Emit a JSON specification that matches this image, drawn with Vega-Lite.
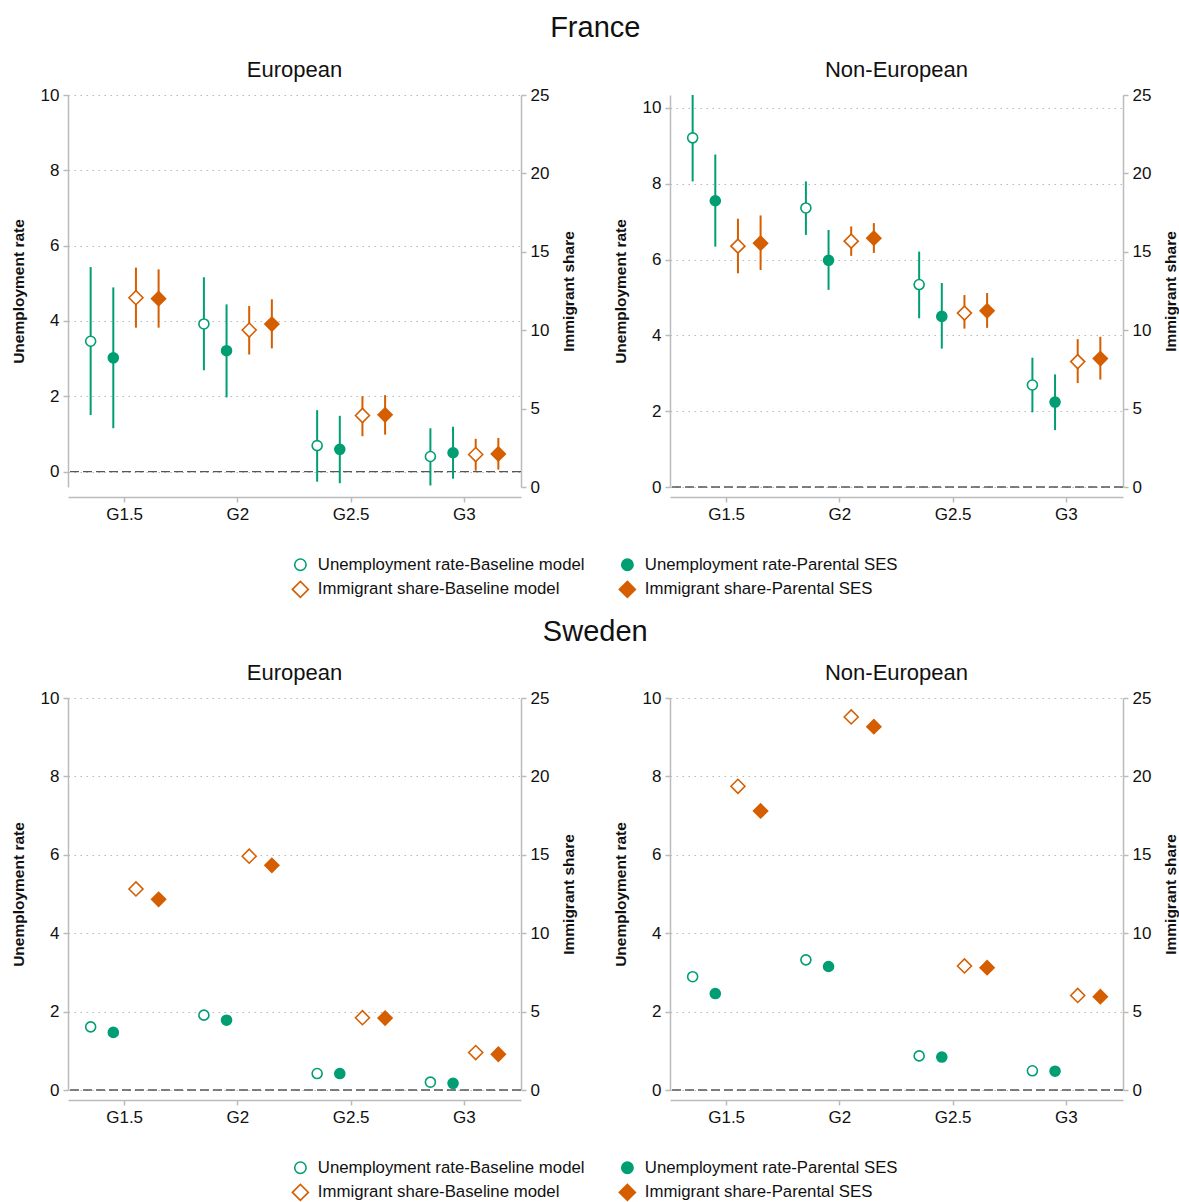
{
  "$schema": "https://vega.github.io/schema/vega-lite/v6.json",
  "padding": {"left": 11, "top": 14, "right": 0, "bottom": 0},
  "config": {
    "font": "Liberation Sans",
    "view": {"stroke": null},
    "axis": {"domainColor": "#bbbbbb", "domainWidth": 1.5, "tickColor": "#bbbbbb", "tickWidth": 1.5, "tickSize": 5, "labelFontSize": 17, "labelColor": "#111111", "titleFontSize": 15.5, "titleFontWeight": "bold", "titleColor": "#111111", "gridColor": "#b8b8b8", "gridDash": [1.5, 4.5], "gridWidth": 1, "labelPadding": 4},
    "title": {"fontSize": 22, "fontWeight": "normal", "color": "#111111", "offset": 4},
    "legend": {"orient": "bottom", "direction": "horizontal", "columns": 2, "labelFontSize": 16.8, "labelColor": "#111111", "labelLimit": 0, "symbolSize": 130, "symbolStrokeWidth": 1.6, "columnPadding": 31, "rowPadding": 4, "labelOffset": 9, "offset": 34, "layout": {"anchor": "middle"}},
    "concat": {"spacing": 35}
  },
  "datasets": {
    "d": [
      {"country": "France", "origin": "European", "gen": "G1.5", "series": "Unemployment rate-Baseline model", "measure": "UR", "value": 3.46, "lo": 1.50, "hi": 5.43},
      {"country": "France", "origin": "European", "gen": "G1.5", "series": "Unemployment rate-Parental SES", "measure": "UR", "value": 3.02, "lo": 1.15, "hi": 4.89},
      {"country": "France", "origin": "European", "gen": "G1.5", "series": "Immigrant share-Baseline model", "measure": "IS", "value": 12.07, "lo": 10.16, "hi": 13.99},
      {"country": "France", "origin": "European", "gen": "G1.5", "series": "Immigrant share-Parental SES", "measure": "IS", "value": 12.01, "lo": 10.16, "hi": 13.88},
      {"country": "France", "origin": "European", "gen": "G2", "series": "Unemployment rate-Baseline model", "measure": "UR", "value": 3.92, "lo": 2.69, "hi": 5.16},
      {"country": "France", "origin": "European", "gen": "G2", "series": "Unemployment rate-Parental SES", "measure": "UR", "value": 3.21, "lo": 1.97, "hi": 4.44},
      {"country": "France", "origin": "European", "gen": "G2", "series": "Immigrant share-Baseline model", "measure": "IS", "value": 10.01, "lo": 8.45, "hi": 11.54},
      {"country": "France", "origin": "European", "gen": "G2", "series": "Immigrant share-Parental SES", "measure": "IS", "value": 10.39, "lo": 8.84, "hi": 11.97},
      {"country": "France", "origin": "European", "gen": "G2.5", "series": "Unemployment rate-Baseline model", "measure": "UR", "value": 0.69, "lo": -0.27, "hi": 1.63},
      {"country": "France", "origin": "European", "gen": "G2.5", "series": "Unemployment rate-Parental SES", "measure": "UR", "value": 0.59, "lo": -0.31, "hi": 1.48},
      {"country": "France", "origin": "European", "gen": "G2.5", "series": "Immigrant share-Baseline model", "measure": "IS", "value": 4.56, "lo": 3.24, "hi": 5.79},
      {"country": "France", "origin": "European", "gen": "G2.5", "series": "Immigrant share-Parental SES", "measure": "IS", "value": 4.60, "lo": 3.34, "hi": 5.86},
      {"country": "France", "origin": "European", "gen": "G3", "series": "Unemployment rate-Baseline model", "measure": "UR", "value": 0.40, "lo": -0.37, "hi": 1.15},
      {"country": "France", "origin": "European", "gen": "G3", "series": "Unemployment rate-Parental SES", "measure": "UR", "value": 0.50, "lo": -0.19, "hi": 1.19},
      {"country": "France", "origin": "European", "gen": "G3", "series": "Immigrant share-Baseline model", "measure": "IS", "value": 2.07, "lo": 1.04, "hi": 3.07},
      {"country": "France", "origin": "European", "gen": "G3", "series": "Immigrant share-Parental SES", "measure": "IS", "value": 2.11, "lo": 1.11, "hi": 3.13},

      {"country": "France", "origin": "Non-European", "gen": "G1.5", "series": "Unemployment rate-Baseline model", "measure": "UR", "value": 9.21, "lo": 8.06, "hi": 10.34},
      {"country": "France", "origin": "Non-European", "gen": "G1.5", "series": "Unemployment rate-Parental SES", "measure": "UR", "value": 7.55, "lo": 6.34, "hi": 8.77},
      {"country": "France", "origin": "Non-European", "gen": "G1.5", "series": "Immigrant share-Baseline model", "measure": "IS", "value": 15.36, "lo": 13.63, "hi": 17.11},
      {"country": "France", "origin": "Non-European", "gen": "G1.5", "series": "Immigrant share-Parental SES", "measure": "IS", "value": 15.55, "lo": 13.84, "hi": 17.32},
      {"country": "France", "origin": "Non-European", "gen": "G2", "series": "Unemployment rate-Baseline model", "measure": "UR", "value": 7.36, "lo": 6.65, "hi": 8.06},
      {"country": "France", "origin": "Non-European", "gen": "G2", "series": "Unemployment rate-Parental SES", "measure": "UR", "value": 5.98, "lo": 5.20, "hi": 6.78},
      {"country": "France", "origin": "Non-European", "gen": "G2", "series": "Immigrant share-Baseline model", "measure": "IS", "value": 15.68, "lo": 14.74, "hi": 16.62},
      {"country": "France", "origin": "Non-European", "gen": "G2", "series": "Immigrant share-Parental SES", "measure": "IS", "value": 15.87, "lo": 14.93, "hi": 16.83},
      {"country": "France", "origin": "Non-European", "gen": "G2.5", "series": "Unemployment rate-Baseline model", "measure": "UR", "value": 5.34, "lo": 4.45, "hi": 6.21},
      {"country": "France", "origin": "Non-European", "gen": "G2.5", "series": "Unemployment rate-Parental SES", "measure": "UR", "value": 4.50, "lo": 3.65, "hi": 5.38},
      {"country": "France", "origin": "Non-European", "gen": "G2.5", "series": "Immigrant share-Baseline model", "measure": "IS", "value": 11.09, "lo": 10.10, "hi": 12.24},
      {"country": "France", "origin": "Non-European", "gen": "G2.5", "series": "Immigrant share-Parental SES", "measure": "IS", "value": 11.24, "lo": 10.15, "hi": 12.37},
      {"country": "France", "origin": "Non-European", "gen": "G3", "series": "Unemployment rate-Baseline model", "measure": "UR", "value": 2.69, "lo": 1.97, "hi": 3.41},
      {"country": "France", "origin": "Non-European", "gen": "G3", "series": "Unemployment rate-Parental SES", "measure": "UR", "value": 2.24, "lo": 1.50, "hi": 2.97},
      {"country": "France", "origin": "Non-European", "gen": "G3", "series": "Immigrant share-Baseline model", "measure": "IS", "value": 8.00, "lo": 6.63, "hi": 9.43},
      {"country": "France", "origin": "Non-European", "gen": "G3", "series": "Immigrant share-Parental SES", "measure": "IS", "value": 8.19, "lo": 6.85, "hi": 9.58},

      {"country": "Sweden", "origin": "European", "gen": "G1.5", "series": "Unemployment rate-Baseline model", "measure": "UR", "value": 1.61},
      {"country": "Sweden", "origin": "European", "gen": "G1.5", "series": "Unemployment rate-Parental SES", "measure": "UR", "value": 1.47},
      {"country": "Sweden", "origin": "European", "gen": "G1.5", "series": "Immigrant share-Baseline model", "measure": "IS", "value": 12.82},
      {"country": "Sweden", "origin": "European", "gen": "G1.5", "series": "Immigrant share-Parental SES", "measure": "IS", "value": 12.16},
      {"country": "Sweden", "origin": "European", "gen": "G2", "series": "Unemployment rate-Baseline model", "measure": "UR", "value": 1.91},
      {"country": "Sweden", "origin": "European", "gen": "G2", "series": "Unemployment rate-Parental SES", "measure": "UR", "value": 1.78},
      {"country": "Sweden", "origin": "European", "gen": "G2", "series": "Immigrant share-Baseline model", "measure": "IS", "value": 14.91},
      {"country": "Sweden", "origin": "European", "gen": "G2", "series": "Immigrant share-Parental SES", "measure": "IS", "value": 14.33},
      {"country": "Sweden", "origin": "European", "gen": "G2.5", "series": "Unemployment rate-Baseline model", "measure": "UR", "value": 0.42},
      {"country": "Sweden", "origin": "European", "gen": "G2.5", "series": "Unemployment rate-Parental SES", "measure": "UR", "value": 0.42},
      {"country": "Sweden", "origin": "European", "gen": "G2.5", "series": "Immigrant share-Baseline model", "measure": "IS", "value": 4.61},
      {"country": "Sweden", "origin": "European", "gen": "G2.5", "series": "Immigrant share-Parental SES", "measure": "IS", "value": 4.59},
      {"country": "Sweden", "origin": "European", "gen": "G3", "series": "Unemployment rate-Baseline model", "measure": "UR", "value": 0.20},
      {"country": "Sweden", "origin": "European", "gen": "G3", "series": "Unemployment rate-Parental SES", "measure": "UR", "value": 0.17},
      {"country": "Sweden", "origin": "European", "gen": "G3", "series": "Immigrant share-Baseline model", "measure": "IS", "value": 2.39},
      {"country": "Sweden", "origin": "European", "gen": "G3", "series": "Immigrant share-Parental SES", "measure": "IS", "value": 2.28},

      {"country": "Sweden", "origin": "Non-European", "gen": "G1.5", "series": "Unemployment rate-Baseline model", "measure": "UR", "value": 2.89},
      {"country": "Sweden", "origin": "Non-European", "gen": "G1.5", "series": "Unemployment rate-Parental SES", "measure": "UR", "value": 2.46},
      {"country": "Sweden", "origin": "Non-European", "gen": "G1.5", "series": "Immigrant share-Baseline model", "measure": "IS", "value": 19.37},
      {"country": "Sweden", "origin": "Non-European", "gen": "G1.5", "series": "Immigrant share-Parental SES", "measure": "IS", "value": 17.80},
      {"country": "Sweden", "origin": "Non-European", "gen": "G2", "series": "Unemployment rate-Baseline model", "measure": "UR", "value": 3.32},
      {"country": "Sweden", "origin": "Non-European", "gen": "G2", "series": "Unemployment rate-Parental SES", "measure": "UR", "value": 3.15},
      {"country": "Sweden", "origin": "Non-European", "gen": "G2", "series": "Immigrant share-Baseline model", "measure": "IS", "value": 23.79},
      {"country": "Sweden", "origin": "Non-European", "gen": "G2", "series": "Immigrant share-Parental SES", "measure": "IS", "value": 23.17},
      {"country": "Sweden", "origin": "Non-European", "gen": "G2.5", "series": "Unemployment rate-Baseline model", "measure": "UR", "value": 0.87},
      {"country": "Sweden", "origin": "Non-European", "gen": "G2.5", "series": "Unemployment rate-Parental SES", "measure": "UR", "value": 0.84},
      {"country": "Sweden", "origin": "Non-European", "gen": "G2.5", "series": "Immigrant share-Baseline model", "measure": "IS", "value": 7.91},
      {"country": "Sweden", "origin": "Non-European", "gen": "G2.5", "series": "Immigrant share-Parental SES", "measure": "IS", "value": 7.80},
      {"country": "Sweden", "origin": "Non-European", "gen": "G3", "series": "Unemployment rate-Baseline model", "measure": "UR", "value": 0.49},
      {"country": "Sweden", "origin": "Non-European", "gen": "G3", "series": "Unemployment rate-Parental SES", "measure": "UR", "value": 0.48},
      {"country": "Sweden", "origin": "Non-European", "gen": "G3", "series": "Immigrant share-Baseline model", "measure": "IS", "value": 6.03},
      {"country": "Sweden", "origin": "Non-European", "gen": "G3", "series": "Immigrant share-Parental SES", "measure": "IS", "value": 5.95}
    ]
  },
  "data": {"name": "d"},
  "resolve": {"scale": {"shape": "independent", "fill": "independent", "stroke": "independent"}},
  "spacing": 17,
  "vconcat": [
    {
      "title": {"text": "France", "fontSize": 29, "anchor": "middle", "offset": 16},
      "transform": [{"filter": "datum.country == 'France'"}],
      "spacing": 35,
      "hconcat": [
        {
          "title": "European",
          "width": 453, "height": 392,
          "transform": [{"filter": "datum.origin == 'European'"}],
          "layer": [
            {
              "transform": [{"filter": "datum.measure == 'UR'"}],
              "layer": [
                {"data": {"values": [{}]}, "mark": {"type": "rule", "color": "#555555", "strokeDash": [9, 4], "strokeWidth": 1.3}, "encoding": {"y": {"datum": 0, "type": "quantitative", "scale": {"domain": [-0.41, 10], "nice": false, "zero": false}, "axis": {"title": "Unemployment rate", "orient": "left", "values": [0, 2, 4, 6, 8, 10], "grid": true, "titlePadding": 14}}}},
                {"mark": {"type": "rule", "strokeWidth": 2}, "encoding": {
                  "x": {"field": "gen", "type": "nominal", "sort": ["G1.5", "G2", "G2.5", "G3"], "scale": {"paddingInner": 0, "paddingOuter": 0}, "axis": {"title": null, "labelAngle": 0, "offset": 10, "bandPosition": 0.5, "domain": true}},
                  "xOffset": {"field": "series", "type": "nominal", "scale": {"domain": ["Unemployment rate-Baseline model", "Unemployment rate-Parental SES", "Immigrant share-Baseline model", "Immigrant share-Parental SES"], "paddingInner": 0, "paddingOuter": 0.5}},
                  "y": {"field": "lo", "type": "quantitative", "scale": {"domain": [-0.41, 10], "nice": false, "zero": false}, "axis": {"title": "Unemployment rate", "orient": "left", "values": [0, 2, 4, 6, 8, 10], "grid": true, "titlePadding": 14}},
                  "y2": {"field": "hi"},
                  "stroke": {"field": "series", "type": "nominal", "scale": {"domain": ["Unemployment rate-Baseline model", "Unemployment rate-Parental SES", "Immigrant share-Baseline model", "Immigrant share-Parental SES"], "range": ["#009E73", "#009E73", "#D55E00", "#D55E00"]}, "legend": {"title": null}}
                }},
                {"mark": {"type": "point", "filled": true, "opacity": 1, "strokeWidth": 1.6, "size": 100}, "encoding": {
                  "x": {"field": "gen", "type": "nominal", "sort": ["G1.5", "G2", "G2.5", "G3"], "scale": {"paddingInner": 0, "paddingOuter": 0}, "axis": {"title": null, "labelAngle": 0, "offset": 10, "bandPosition": 0.5, "domain": true}},
                  "xOffset": {"field": "series", "type": "nominal", "scale": {"domain": ["Unemployment rate-Baseline model", "Unemployment rate-Parental SES", "Immigrant share-Baseline model", "Immigrant share-Parental SES"], "paddingInner": 0, "paddingOuter": 0.5}},
                  "y": {"field": "value", "type": "quantitative", "scale": {"domain": [-0.41, 10], "nice": false, "zero": false}, "axis": {"title": "Unemployment rate", "orient": "left", "values": [0, 2, 4, 6, 8, 10], "grid": true, "titlePadding": 14}},
                  "shape": {"field": "series", "type": "nominal", "scale": {"domain": ["Unemployment rate-Baseline model", "Unemployment rate-Parental SES", "Immigrant share-Baseline model", "Immigrant share-Parental SES"], "range": ["circle", "circle", "M-1.4,0L0,-1.4L1.4,0L0,1.4Z", "M-1.4,0L0,-1.4L1.4,0L0,1.4Z"]}, "legend": {"title": null}},
                  "fill": {"field": "series", "type": "nominal", "scale": {"domain": ["Unemployment rate-Baseline model", "Unemployment rate-Parental SES", "Immigrant share-Baseline model", "Immigrant share-Parental SES"], "range": ["#ffffff", "#009E73", "#ffffff", "#D55E00"]}, "legend": {"title": null}},
                  "stroke": {"field": "series", "type": "nominal", "scale": {"domain": ["Unemployment rate-Baseline model", "Unemployment rate-Parental SES", "Immigrant share-Baseline model", "Immigrant share-Parental SES"], "range": ["#009E73", "#009E73", "#D55E00", "#D55E00"]}, "legend": {"title": null}}
                }}
              ]
            },
            {
              "transform": [{"filter": "datum.measure == 'IS'"}],
              "layer": [
                {"mark": {"type": "rule", "strokeWidth": 2}, "encoding": {
                  "x": {"field": "gen", "type": "nominal", "sort": ["G1.5", "G2", "G2.5", "G3"], "scale": {"paddingInner": 0, "paddingOuter": 0}, "axis": {"title": null, "labelAngle": 0, "offset": 10, "bandPosition": 0.5, "domain": true}},
                  "xOffset": {"field": "series", "type": "nominal", "scale": {"domain": ["Unemployment rate-Baseline model", "Unemployment rate-Parental SES", "Immigrant share-Baseline model", "Immigrant share-Parental SES"], "paddingInner": 0, "paddingOuter": 0.5}},
                  "y": {"field": "lo", "type": "quantitative", "scale": {"domain": [0, 25], "nice": false}, "axis": {"title": "Immigrant share", "orient": "right", "values": [0, 5, 10, 15, 20, 25], "grid": false, "titlePadding": 13, "titleAngle": 270, "titleBaseline": "top"}},
                  "y2": {"field": "hi"},
                  "stroke": {"field": "series", "type": "nominal", "scale": {"domain": ["Unemployment rate-Baseline model", "Unemployment rate-Parental SES", "Immigrant share-Baseline model", "Immigrant share-Parental SES"], "range": ["#009E73", "#009E73", "#D55E00", "#D55E00"]}, "legend": {"title": null}}
                }},
                {"mark": {"type": "point", "filled": true, "opacity": 1, "strokeWidth": 1.6, "size": 100}, "encoding": {
                  "x": {"field": "gen", "type": "nominal", "sort": ["G1.5", "G2", "G2.5", "G3"], "scale": {"paddingInner": 0, "paddingOuter": 0}, "axis": {"title": null, "labelAngle": 0, "offset": 10, "bandPosition": 0.5, "domain": true}},
                  "xOffset": {"field": "series", "type": "nominal", "scale": {"domain": ["Unemployment rate-Baseline model", "Unemployment rate-Parental SES", "Immigrant share-Baseline model", "Immigrant share-Parental SES"], "paddingInner": 0, "paddingOuter": 0.5}},
                  "y": {"field": "value", "type": "quantitative", "scale": {"domain": [0, 25], "nice": false}, "axis": {"title": "Immigrant share", "orient": "right", "values": [0, 5, 10, 15, 20, 25], "grid": false, "titlePadding": 13, "titleAngle": 270, "titleBaseline": "top"}},
                  "shape": {"field": "series", "type": "nominal", "scale": {"domain": ["Unemployment rate-Baseline model", "Unemployment rate-Parental SES", "Immigrant share-Baseline model", "Immigrant share-Parental SES"], "range": ["circle", "circle", "M-1.4,0L0,-1.4L1.4,0L0,1.4Z", "M-1.4,0L0,-1.4L1.4,0L0,1.4Z"]}, "legend": {"title": null}},
                  "fill": {"field": "series", "type": "nominal", "scale": {"domain": ["Unemployment rate-Baseline model", "Unemployment rate-Parental SES", "Immigrant share-Baseline model", "Immigrant share-Parental SES"], "range": ["#ffffff", "#009E73", "#ffffff", "#D55E00"]}, "legend": {"title": null}},
                  "stroke": {"field": "series", "type": "nominal", "scale": {"domain": ["Unemployment rate-Baseline model", "Unemployment rate-Parental SES", "Immigrant share-Baseline model", "Immigrant share-Parental SES"], "range": ["#009E73", "#009E73", "#D55E00", "#D55E00"]}, "legend": {"title": null}}
                }}
              ]
            }
          ],
          "resolve": {"scale": {"y": "independent"}}
        },
        {
          "title": "Non-European",
          "width": 453, "height": 392,
          "transform": [{"filter": "datum.origin == 'Non-European'"}],
          "layer": [
            {
              "transform": [{"filter": "datum.measure == 'UR'"}],
              "layer": [
                {"data": {"values": [{}]}, "mark": {"type": "rule", "color": "#555555", "strokeDash": [9, 4], "strokeWidth": 1.3}, "encoding": {"y": {"datum": 0, "type": "quantitative", "scale": {"domain": [0, 10.34], "nice": false, "zero": false}, "axis": {"title": "Unemployment rate", "orient": "left", "values": [0, 2, 4, 6, 8, 10], "grid": true, "titlePadding": 14}}}},
                {"mark": {"type": "rule", "strokeWidth": 2}, "encoding": {
                  "x": {"field": "gen", "type": "nominal", "sort": ["G1.5", "G2", "G2.5", "G3"], "scale": {"paddingInner": 0, "paddingOuter": 0}, "axis": {"title": null, "labelAngle": 0, "offset": 10, "bandPosition": 0.5, "domain": true}},
                  "xOffset": {"field": "series", "type": "nominal", "scale": {"domain": ["Unemployment rate-Baseline model", "Unemployment rate-Parental SES", "Immigrant share-Baseline model", "Immigrant share-Parental SES"], "paddingInner": 0, "paddingOuter": 0.5}},
                  "y": {"field": "lo", "type": "quantitative", "scale": {"domain": [0, 10.34], "nice": false, "zero": false}, "axis": {"title": "Unemployment rate", "orient": "left", "values": [0, 2, 4, 6, 8, 10], "grid": true, "titlePadding": 14}},
                  "y2": {"field": "hi"},
                  "stroke": {"field": "series", "type": "nominal", "scale": {"domain": ["Unemployment rate-Baseline model", "Unemployment rate-Parental SES", "Immigrant share-Baseline model", "Immigrant share-Parental SES"], "range": ["#009E73", "#009E73", "#D55E00", "#D55E00"]}, "legend": {"title": null}}
                }},
                {"mark": {"type": "point", "filled": true, "opacity": 1, "strokeWidth": 1.6, "size": 100}, "encoding": {
                  "x": {"field": "gen", "type": "nominal", "sort": ["G1.5", "G2", "G2.5", "G3"], "scale": {"paddingInner": 0, "paddingOuter": 0}, "axis": {"title": null, "labelAngle": 0, "offset": 10, "bandPosition": 0.5, "domain": true}},
                  "xOffset": {"field": "series", "type": "nominal", "scale": {"domain": ["Unemployment rate-Baseline model", "Unemployment rate-Parental SES", "Immigrant share-Baseline model", "Immigrant share-Parental SES"], "paddingInner": 0, "paddingOuter": 0.5}},
                  "y": {"field": "value", "type": "quantitative", "scale": {"domain": [0, 10.34], "nice": false, "zero": false}, "axis": {"title": "Unemployment rate", "orient": "left", "values": [0, 2, 4, 6, 8, 10], "grid": true, "titlePadding": 14}},
                  "shape": {"field": "series", "type": "nominal", "scale": {"domain": ["Unemployment rate-Baseline model", "Unemployment rate-Parental SES", "Immigrant share-Baseline model", "Immigrant share-Parental SES"], "range": ["circle", "circle", "M-1.4,0L0,-1.4L1.4,0L0,1.4Z", "M-1.4,0L0,-1.4L1.4,0L0,1.4Z"]}, "legend": {"title": null}},
                  "fill": {"field": "series", "type": "nominal", "scale": {"domain": ["Unemployment rate-Baseline model", "Unemployment rate-Parental SES", "Immigrant share-Baseline model", "Immigrant share-Parental SES"], "range": ["#ffffff", "#009E73", "#ffffff", "#D55E00"]}, "legend": {"title": null}},
                  "stroke": {"field": "series", "type": "nominal", "scale": {"domain": ["Unemployment rate-Baseline model", "Unemployment rate-Parental SES", "Immigrant share-Baseline model", "Immigrant share-Parental SES"], "range": ["#009E73", "#009E73", "#D55E00", "#D55E00"]}, "legend": {"title": null}}
                }}
              ]
            },
            {
              "transform": [{"filter": "datum.measure == 'IS'"}],
              "layer": [
                {"mark": {"type": "rule", "strokeWidth": 2}, "encoding": {
                  "x": {"field": "gen", "type": "nominal", "sort": ["G1.5", "G2", "G2.5", "G3"], "scale": {"paddingInner": 0, "paddingOuter": 0}, "axis": {"title": null, "labelAngle": 0, "offset": 10, "bandPosition": 0.5, "domain": true}},
                  "xOffset": {"field": "series", "type": "nominal", "scale": {"domain": ["Unemployment rate-Baseline model", "Unemployment rate-Parental SES", "Immigrant share-Baseline model", "Immigrant share-Parental SES"], "paddingInner": 0, "paddingOuter": 0.5}},
                  "y": {"field": "lo", "type": "quantitative", "scale": {"domain": [0, 25], "nice": false}, "axis": {"title": "Immigrant share", "orient": "right", "values": [0, 5, 10, 15, 20, 25], "grid": false, "titlePadding": 13, "titleAngle": 270, "titleBaseline": "top"}},
                  "y2": {"field": "hi"},
                  "stroke": {"field": "series", "type": "nominal", "scale": {"domain": ["Unemployment rate-Baseline model", "Unemployment rate-Parental SES", "Immigrant share-Baseline model", "Immigrant share-Parental SES"], "range": ["#009E73", "#009E73", "#D55E00", "#D55E00"]}, "legend": {"title": null}}
                }},
                {"mark": {"type": "point", "filled": true, "opacity": 1, "strokeWidth": 1.6, "size": 100}, "encoding": {
                  "x": {"field": "gen", "type": "nominal", "sort": ["G1.5", "G2", "G2.5", "G3"], "scale": {"paddingInner": 0, "paddingOuter": 0}, "axis": {"title": null, "labelAngle": 0, "offset": 10, "bandPosition": 0.5, "domain": true}},
                  "xOffset": {"field": "series", "type": "nominal", "scale": {"domain": ["Unemployment rate-Baseline model", "Unemployment rate-Parental SES", "Immigrant share-Baseline model", "Immigrant share-Parental SES"], "paddingInner": 0, "paddingOuter": 0.5}},
                  "y": {"field": "value", "type": "quantitative", "scale": {"domain": [0, 25], "nice": false}, "axis": {"title": "Immigrant share", "orient": "right", "values": [0, 5, 10, 15, 20, 25], "grid": false, "titlePadding": 13, "titleAngle": 270, "titleBaseline": "top"}},
                  "shape": {"field": "series", "type": "nominal", "scale": {"domain": ["Unemployment rate-Baseline model", "Unemployment rate-Parental SES", "Immigrant share-Baseline model", "Immigrant share-Parental SES"], "range": ["circle", "circle", "M-1.4,0L0,-1.4L1.4,0L0,1.4Z", "M-1.4,0L0,-1.4L1.4,0L0,1.4Z"]}, "legend": {"title": null}},
                  "fill": {"field": "series", "type": "nominal", "scale": {"domain": ["Unemployment rate-Baseline model", "Unemployment rate-Parental SES", "Immigrant share-Baseline model", "Immigrant share-Parental SES"], "range": ["#ffffff", "#009E73", "#ffffff", "#D55E00"]}, "legend": {"title": null}},
                  "stroke": {"field": "series", "type": "nominal", "scale": {"domain": ["Unemployment rate-Baseline model", "Unemployment rate-Parental SES", "Immigrant share-Baseline model", "Immigrant share-Parental SES"], "range": ["#009E73", "#009E73", "#D55E00", "#D55E00"]}, "legend": {"title": null}}
                }}
              ]
            }
          ],
          "resolve": {"scale": {"y": "independent"}}
        }
      ]
    },
    {
      "title": {"text": "Sweden", "fontSize": 29, "anchor": "middle", "offset": 15},
      "transform": [{"filter": "datum.country == 'Sweden'"}],
      "spacing": 35,
      "hconcat": [
        {
          "title": "European",
          "width": 453, "height": 392,
          "transform": [{"filter": "datum.origin == 'European'"}],
          "layer": [
            {
              "transform": [{"filter": "datum.measure == 'UR'"}],
              "layer": [
                {"data": {"values": [{}]}, "mark": {"type": "rule", "color": "#555555", "strokeDash": [9, 4], "strokeWidth": 1.3}, "encoding": {"y": {"datum": 0, "type": "quantitative", "scale": {"domain": [0, 10], "nice": false, "zero": false}, "axis": {"title": "Unemployment rate", "orient": "left", "values": [0, 2, 4, 6, 8, 10], "grid": true, "titlePadding": 14}}}},
                {"mark": {"type": "point", "filled": true, "opacity": 1, "strokeWidth": 1.6, "size": 100}, "encoding": {
                  "x": {"field": "gen", "type": "nominal", "sort": ["G1.5", "G2", "G2.5", "G3"], "scale": {"paddingInner": 0, "paddingOuter": 0}, "axis": {"title": null, "labelAngle": 0, "offset": 10, "bandPosition": 0.5, "domain": true}},
                  "xOffset": {"field": "series", "type": "nominal", "scale": {"domain": ["Unemployment rate-Baseline model", "Unemployment rate-Parental SES", "Immigrant share-Baseline model", "Immigrant share-Parental SES"], "paddingInner": 0, "paddingOuter": 0.5}},
                  "y": {"field": "value", "type": "quantitative", "scale": {"domain": [0, 10], "nice": false, "zero": false}, "axis": {"title": "Unemployment rate", "orient": "left", "values": [0, 2, 4, 6, 8, 10], "grid": true, "titlePadding": 14}},
                  "shape": {"field": "series", "type": "nominal", "scale": {"domain": ["Unemployment rate-Baseline model", "Unemployment rate-Parental SES", "Immigrant share-Baseline model", "Immigrant share-Parental SES"], "range": ["circle", "circle", "M-1.4,0L0,-1.4L1.4,0L0,1.4Z", "M-1.4,0L0,-1.4L1.4,0L0,1.4Z"]}, "legend": {"title": null}},
                  "fill": {"field": "series", "type": "nominal", "scale": {"domain": ["Unemployment rate-Baseline model", "Unemployment rate-Parental SES", "Immigrant share-Baseline model", "Immigrant share-Parental SES"], "range": ["#ffffff", "#009E73", "#ffffff", "#D55E00"]}, "legend": {"title": null}},
                  "stroke": {"field": "series", "type": "nominal", "scale": {"domain": ["Unemployment rate-Baseline model", "Unemployment rate-Parental SES", "Immigrant share-Baseline model", "Immigrant share-Parental SES"], "range": ["#009E73", "#009E73", "#D55E00", "#D55E00"]}, "legend": {"title": null}}
                }}
              ]
            },
            {
              "transform": [{"filter": "datum.measure == 'IS'"}],
              "mark": {"type": "point", "filled": true, "opacity": 1, "strokeWidth": 1.6, "size": 100},
              "encoding": {
                "x": {"field": "gen", "type": "nominal", "sort": ["G1.5", "G2", "G2.5", "G3"], "scale": {"paddingInner": 0, "paddingOuter": 0}, "axis": {"title": null, "labelAngle": 0, "offset": 10, "bandPosition": 0.5, "domain": true}},
                "xOffset": {"field": "series", "type": "nominal", "scale": {"domain": ["Unemployment rate-Baseline model", "Unemployment rate-Parental SES", "Immigrant share-Baseline model", "Immigrant share-Parental SES"], "paddingInner": 0, "paddingOuter": 0.5}},
                "y": {"field": "value", "type": "quantitative", "scale": {"domain": [0, 25], "nice": false}, "axis": {"title": "Immigrant share", "orient": "right", "values": [0, 5, 10, 15, 20, 25], "grid": false, "titlePadding": 13, "titleAngle": 270, "titleBaseline": "top"}},
                "shape": {"field": "series", "type": "nominal", "scale": {"domain": ["Unemployment rate-Baseline model", "Unemployment rate-Parental SES", "Immigrant share-Baseline model", "Immigrant share-Parental SES"], "range": ["circle", "circle", "M-1.4,0L0,-1.4L1.4,0L0,1.4Z", "M-1.4,0L0,-1.4L1.4,0L0,1.4Z"]}, "legend": {"title": null}},
                "fill": {"field": "series", "type": "nominal", "scale": {"domain": ["Unemployment rate-Baseline model", "Unemployment rate-Parental SES", "Immigrant share-Baseline model", "Immigrant share-Parental SES"], "range": ["#ffffff", "#009E73", "#ffffff", "#D55E00"]}, "legend": {"title": null}},
                "stroke": {"field": "series", "type": "nominal", "scale": {"domain": ["Unemployment rate-Baseline model", "Unemployment rate-Parental SES", "Immigrant share-Baseline model", "Immigrant share-Parental SES"], "range": ["#009E73", "#009E73", "#D55E00", "#D55E00"]}, "legend": {"title": null}}
              }
            }
          ],
          "resolve": {"scale": {"y": "independent"}}
        },
        {
          "title": "Non-European",
          "width": 453, "height": 392,
          "transform": [{"filter": "datum.origin == 'Non-European'"}],
          "layer": [
            {
              "transform": [{"filter": "datum.measure == 'UR'"}],
              "layer": [
                {"data": {"values": [{}]}, "mark": {"type": "rule", "color": "#555555", "strokeDash": [9, 4], "strokeWidth": 1.3}, "encoding": {"y": {"datum": 0, "type": "quantitative", "scale": {"domain": [0, 10], "nice": false, "zero": false}, "axis": {"title": "Unemployment rate", "orient": "left", "values": [0, 2, 4, 6, 8, 10], "grid": true, "titlePadding": 14}}}},
                {"mark": {"type": "point", "filled": true, "opacity": 1, "strokeWidth": 1.6, "size": 100}, "encoding": {
                  "x": {"field": "gen", "type": "nominal", "sort": ["G1.5", "G2", "G2.5", "G3"], "scale": {"paddingInner": 0, "paddingOuter": 0}, "axis": {"title": null, "labelAngle": 0, "offset": 10, "bandPosition": 0.5, "domain": true}},
                  "xOffset": {"field": "series", "type": "nominal", "scale": {"domain": ["Unemployment rate-Baseline model", "Unemployment rate-Parental SES", "Immigrant share-Baseline model", "Immigrant share-Parental SES"], "paddingInner": 0, "paddingOuter": 0.5}},
                  "y": {"field": "value", "type": "quantitative", "scale": {"domain": [0, 10], "nice": false, "zero": false}, "axis": {"title": "Unemployment rate", "orient": "left", "values": [0, 2, 4, 6, 8, 10], "grid": true, "titlePadding": 14}},
                  "shape": {"field": "series", "type": "nominal", "scale": {"domain": ["Unemployment rate-Baseline model", "Unemployment rate-Parental SES", "Immigrant share-Baseline model", "Immigrant share-Parental SES"], "range": ["circle", "circle", "M-1.4,0L0,-1.4L1.4,0L0,1.4Z", "M-1.4,0L0,-1.4L1.4,0L0,1.4Z"]}, "legend": {"title": null}},
                  "fill": {"field": "series", "type": "nominal", "scale": {"domain": ["Unemployment rate-Baseline model", "Unemployment rate-Parental SES", "Immigrant share-Baseline model", "Immigrant share-Parental SES"], "range": ["#ffffff", "#009E73", "#ffffff", "#D55E00"]}, "legend": {"title": null}},
                  "stroke": {"field": "series", "type": "nominal", "scale": {"domain": ["Unemployment rate-Baseline model", "Unemployment rate-Parental SES", "Immigrant share-Baseline model", "Immigrant share-Parental SES"], "range": ["#009E73", "#009E73", "#D55E00", "#D55E00"]}, "legend": {"title": null}}
                }}
              ]
            },
            {
              "transform": [{"filter": "datum.measure == 'IS'"}],
              "mark": {"type": "point", "filled": true, "opacity": 1, "strokeWidth": 1.6, "size": 100},
              "encoding": {
                "x": {"field": "gen", "type": "nominal", "sort": ["G1.5", "G2", "G2.5", "G3"], "scale": {"paddingInner": 0, "paddingOuter": 0}, "axis": {"title": null, "labelAngle": 0, "offset": 10, "bandPosition": 0.5, "domain": true}},
                "xOffset": {"field": "series", "type": "nominal", "scale": {"domain": ["Unemployment rate-Baseline model", "Unemployment rate-Parental SES", "Immigrant share-Baseline model", "Immigrant share-Parental SES"], "paddingInner": 0, "paddingOuter": 0.5}},
                "y": {"field": "value", "type": "quantitative", "scale": {"domain": [0, 25], "nice": false}, "axis": {"title": "Immigrant share", "orient": "right", "values": [0, 5, 10, 15, 20, 25], "grid": false, "titlePadding": 13, "titleAngle": 270, "titleBaseline": "top"}},
                "shape": {"field": "series", "type": "nominal", "scale": {"domain": ["Unemployment rate-Baseline model", "Unemployment rate-Parental SES", "Immigrant share-Baseline model", "Immigrant share-Parental SES"], "range": ["circle", "circle", "M-1.4,0L0,-1.4L1.4,0L0,1.4Z", "M-1.4,0L0,-1.4L1.4,0L0,1.4Z"]}, "legend": {"title": null}},
                "fill": {"field": "series", "type": "nominal", "scale": {"domain": ["Unemployment rate-Baseline model", "Unemployment rate-Parental SES", "Immigrant share-Baseline model", "Immigrant share-Parental SES"], "range": ["#ffffff", "#009E73", "#ffffff", "#D55E00"]}, "legend": {"title": null}},
                "stroke": {"field": "series", "type": "nominal", "scale": {"domain": ["Unemployment rate-Baseline model", "Unemployment rate-Parental SES", "Immigrant share-Baseline model", "Immigrant share-Parental SES"], "range": ["#009E73", "#009E73", "#D55E00", "#D55E00"]}, "legend": {"title": null}}
              }
            }
          ],
          "resolve": {"scale": {"y": "independent"}}
        }
      ]
    }
  ]
}
